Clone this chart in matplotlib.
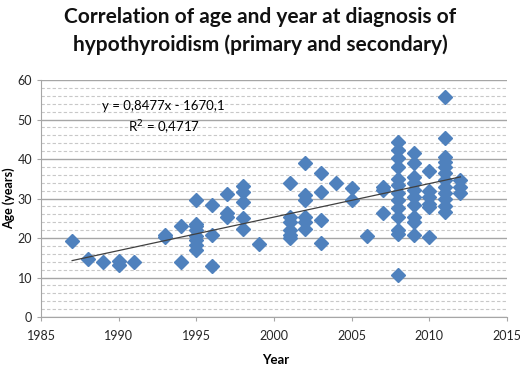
import numpy as np
import matplotlib
matplotlib.use("Agg")
import matplotlib.pyplot as plt
from matplotlib.ticker import MultipleLocator

plt.rcParams['font.family'] = ['Lato', 'DejaVu Sans']

# year of diagnosis and age at diagnosis
years = [1987, 1988, 1989, 1990, 1990, 1991,
         1993, 1993, 1994, 1994,
         1995, 1995, 1995, 1995, 1995, 1995, 1995, 1995,
         1996, 1996, 1996,
         1997, 1997, 1997,
         1998, 1998, 1998, 1998, 1998,
         1999,
         2001, 2001, 2001, 2001, 2001, 2001,
         2002, 2002, 2002, 2002, 2002, 2002,
         2003, 2003, 2003, 2003,
         2004,
         2005, 2005,
         2006,
         2007, 2007, 2007,
         2008, 2008, 2008, 2008, 2008, 2008, 2008, 2008, 2008, 2008, 2008, 2008, 2008,
         2009, 2009, 2009, 2009, 2009, 2009, 2009, 2009, 2009, 2009,
         2010, 2010, 2010, 2010, 2010, 2010,
         2011, 2011, 2011, 2011, 2011, 2011, 2011, 2011, 2011, 2011, 2011, 2011,
         2012, 2012, 2012]
ages = [19.2, 14.6, 14.0, 14.2, 13.2, 13.8,
        20.8, 20.2, 23.0, 13.9,
        29.6, 23.5, 23.0, 22.0, 20.5, 19.5, 18.2, 17.0,
        28.4, 20.8, 13.0,
        31.2, 26.4, 25.2,
        33.2, 31.7, 29.0, 25.0, 22.4,
        18.5,
        33.8, 25.3, 24.1, 22.0, 20.8, 20.0,
        39.0, 30.9, 29.6, 25.3, 24.0, 22.4,
        36.4, 31.7, 24.6, 18.8,
        33.8,
        32.6, 29.6,
        20.5,
        33.0, 32.2, 26.3,
        44.3, 42.3, 40.3, 38.0, 33.4, 31.4, 29.6, 27.6, 25.4, 22.0, 10.6, 35.0, 21.0,
        41.5, 39.0, 35.5, 34.0, 32.2, 30.4, 28.4, 25.3, 24.0, 20.8,
        37.0, 32.0, 30.4, 28.6, 27.9, 20.3,
        55.7, 45.3, 40.6, 39.3, 38.0, 36.4, 34.7, 33.0, 31.4, 29.8, 28.0, 26.6,
        34.7, 33.0, 31.4]

slope = 0.8477
intercept = -1670.1
trend_x = [1987, 2012]

fig = plt.figure(figsize=(5.2, 3.65), dpi=100)
ax = fig.add_axes([0.079, 0.1315, 0.896, 0.6493])

ax.plot(years, ages, linestyle='none', marker='D', markersize=7.5,
        color='#4F81BD', markeredgecolor='#4F81BD', zorder=3)
tx = np.array(trend_x)
ax.plot(tx, slope * tx + intercept, color='#404040', linewidth=0.9, zorder=4)

ax.set_xlim(1985, 2015)
ax.set_ylim(0, 60)
ax.xaxis.set_major_locator(MultipleLocator(5))
ax.yaxis.set_major_locator(MultipleLocator(10))
ax.yaxis.set_minor_locator(MultipleLocator(2))
ax.grid(True, which='major', axis='y', color='#a6a6a6', linewidth=1.0)
ax.grid(True, which='minor', axis='y', color='#c8c8c8', linewidth=0.8, linestyle=(0, (3, 2)))
ax.set_axisbelow(True)

for s in ['top', 'right']:
    ax.spines[s].set_visible(False)
ax.spines['left'].set_color('#a6a6a6')
ax.spines['bottom'].set_color('#a6a6a6')
ax.tick_params(axis='both', which='major', labelsize=9, colors='#a6a6a6',
               labelcolor='#262626', length=3, direction='out')
ax.tick_params(axis='x', which='major', pad=6)
ax.tick_params(axis='y', which='minor', length=0)

ax.set_xlabel('Year', fontsize=9.5, fontweight='bold')
ax.xaxis.set_label_coords(0.474, -0.181)
ax.xaxis.label.set_horizontalalignment('left')
ax.xaxis.label.set_verticalalignment('center')
ax.set_ylabel('Age (years)', fontsize=9, fontweight='bold')
ax.yaxis.set_label_coords(-0.07, 0.5)
ax.yaxis.label.set_verticalalignment('center')

ax.text(1992.9, 53.4, 'y = 0,8477x - 1670,1', ha='center', va='center', fontsize=9.5)
ax.text(1992.9, 47.8, 'R$^2$ = 0,4717', ha='center', va='center', fontsize=9.5)

fig.text(0.5, 0.982, 'Correlation of age and year at diagnosis of\nhypothyroidism (primary and secondary)',
         ha='center', va='top', fontsize=15, fontweight='bold', linespacing=1.45, color='#111111')

fig.savefig('out.png', dpi=100)
